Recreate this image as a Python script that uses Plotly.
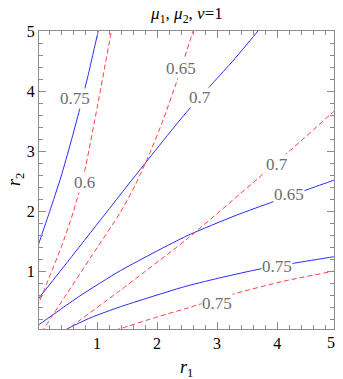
import plotly.graph_objects as go

# ---- data (r1, r2 coordinates) ----
blue_a_x = [0.00, 0.03, 0.21, 0.40, 0.56, 0.71, 0.85, 1.02, 1.05]
blue_a_y = [1.38, 1.47, 2.00, 2.58, 3.14, 3.70, 4.26, 5.00, 5.12]

blue_b_x = [0.00, 0.03, 0.82, 1.60, 2.48, 3.26, 3.68, 3.76]
blue_b_y = [0.52, 0.56, 1.56, 2.55, 3.64, 4.50, 5.00, 5.10]

blue_c_x = [0.00, 0.03, 0.70, 1.39, 2.48, 3.32, 3.95, 4.94, 5.00]
blue_c_y = [0.10, 0.12, 0.59, 1.02, 1.59, 1.94, 2.17, 2.52, 2.54]

blue_d_x = [0.43, 0.50, 0.90, 1.39, 2.48, 3.09, 3.73, 4.94, 5.00]
blue_d_y = [0.00, 0.05, 0.24, 0.42, 0.76, 0.91, 1.05, 1.25, 1.26]

red_a_x = [0.00, 0.03, 0.20, 0.40, 0.60, 0.79, 1.00, 1.24, 1.26]
red_a_y = [0.41, 0.48, 0.90, 1.40, 1.98, 2.66, 3.72, 5.00, 5.10]

red_b_x = [0.08, 0.11, 0.50, 0.90, 1.39, 1.64, 1.87, 2.10, 2.32, 2.60, 2.64]
red_b_y = [0.00, 0.05, 0.64, 1.25, 1.99, 2.45, 2.95, 3.52, 4.14, 5.00, 5.12]

red_c_x = [0.47, 0.54, 1.39, 2.48, 3.68, 4.20, 4.94, 5.00]
red_c_y = [0.00, 0.065, 0.695, 1.53, 2.55, 3.00, 3.66, 3.71]

red_d_x = [1.30, 1.40, 2.00, 2.48, 3.23, 4.09, 4.94, 5.00]
red_d_y = [0.03, 0.06, 0.25, 0.39, 0.62, 0.84, 1.01, 1.02]

label_text = ["0.75", "0.6", "0.65", "0.7", "0.7", "0.65", "0.75", "0.75"]
label_x = [0.63, 0.79, 2.39, 2.72, 4.00, 4.20, 4.00, 3.00]
label_y = [3.88, 2.48, 4.38, 3.89, 2.78, 2.28, 1.09, 0.48]

X_RANGE = [0.033, 4.947]
Y_RANGE = [0.05, 5.0]

FONT = "Liberation Serif, Times New Roman, DejaVu Serif, serif"
FRAME = "#8c8c8c"
TICK = "#8c8c8c"

fig = go.Figure()
for xs, ys in [(blue_a_x, blue_a_y), (blue_b_x, blue_b_y), (blue_c_x, blue_c_y), (blue_d_x, blue_d_y)]:
    fig.add_trace(go.Scatter(x=xs, y=ys, mode="lines", line=dict(color="#2a2aff", width=1, shape="spline", smoothing=0.6),
                             hoverinfo="skip", showlegend=False))
for xs, ys in [(red_a_x, red_a_y), (red_b_x, red_b_y), (red_c_x, red_c_y), (red_d_x, red_d_y)]:
    fig.add_trace(go.Scatter(x=xs, y=ys, mode="lines",
                             line=dict(color="#ff4040", width=1, dash="5px,3px", shape="spline", smoothing=0.6),
                             hoverinfo="skip", showlegend=False))
# empty trace that carries the overlaid minor-tick axes
fig.add_trace(go.Scatter(x=[], y=[], xaxis="x2", yaxis="y2", mode="lines", hoverinfo="skip", showlegend=False))

annotations = []
for t, lx, ly in zip(label_text, label_x, label_y):
    annotations.append(dict(x=lx, y=ly, xref="x", yref="y", text=t, showarrow=False,
                            font=dict(family=FONT, size=17, color="#6e6e6e"),
                            bgcolor="white", borderpad=0))
# tick label "5" on the r1 axis sits just past the frame edge
x5_paper = (5 - X_RANGE[0]) / (X_RANGE[1] - X_RANGE[0])
annotations.append(dict(x=x5_paper, y=0, xref="paper", yref="paper", text="5", showarrow=False,
                        yanchor="middle", yshift=-13, font=dict(family=FONT, size=16, color="black")))
annotations.append(dict(x=0.5, y=0, xref="paper", yref="paper", text="<i>r</i><sub>1</sub>", showarrow=False,
                        yanchor="middle", yshift=-39, font=dict(family=FONT, size=18, color="black")))
annotations.append(dict(x=0, y=0.5, xref="paper", yref="paper", text="<i>r</i><sub>2</sub>", showarrow=False,
                        xanchor="center", xshift=-24, textangle=-90,
                        font=dict(family=FONT, size=18, color="black")))

major_axis = dict(showgrid=False, zeroline=False, showline=True, linecolor=FRAME, linewidth=1,
                  mirror="allticks", ticks="inside", ticklen=7, tickcolor=TICK, tickwidth=1,
                  automargin=False, tickmode="linear", tick0=0, dtick=1,
                  tickfont=dict(family=FONT, size=16, color="black"))
minor_axis = dict(showgrid=False, zeroline=False, showline=False, showticklabels=False,
                  mirror="allticks", ticks="inside", ticklen=4, tickcolor=TICK, tickwidth=1,
                  automargin=False, tickmode="linear", tick0=0, dtick=0.2)

fig.update_layout(
    width=343, height=379,
    margin=dict(l=39, r=9, t=31, b=50),
    paper_bgcolor="white", plot_bgcolor="white",
    title=dict(text="<i>μ</i><sub>1</sub>, <i>μ</i><sub>2</sub>, <i>ν</i>=1", x=0.545, xanchor="center",
               y=1 - 13 / 379, yanchor="middle", yref="container",
               font=dict(family=FONT, size=17, color="black")),
    xaxis=dict(range=X_RANGE, **major_axis),
    yaxis=dict(range=Y_RANGE, **major_axis),
    xaxis2=dict(range=X_RANGE, overlaying="x", anchor="y2", side="bottom", **minor_axis),
    yaxis2=dict(range=Y_RANGE, overlaying="y", anchor="x2", side="left", **minor_axis),
    annotations=annotations,
)

fig.write_html("out.html", config={"displayModeBar": False},
               post_script="document.body.style.margin='0';")
